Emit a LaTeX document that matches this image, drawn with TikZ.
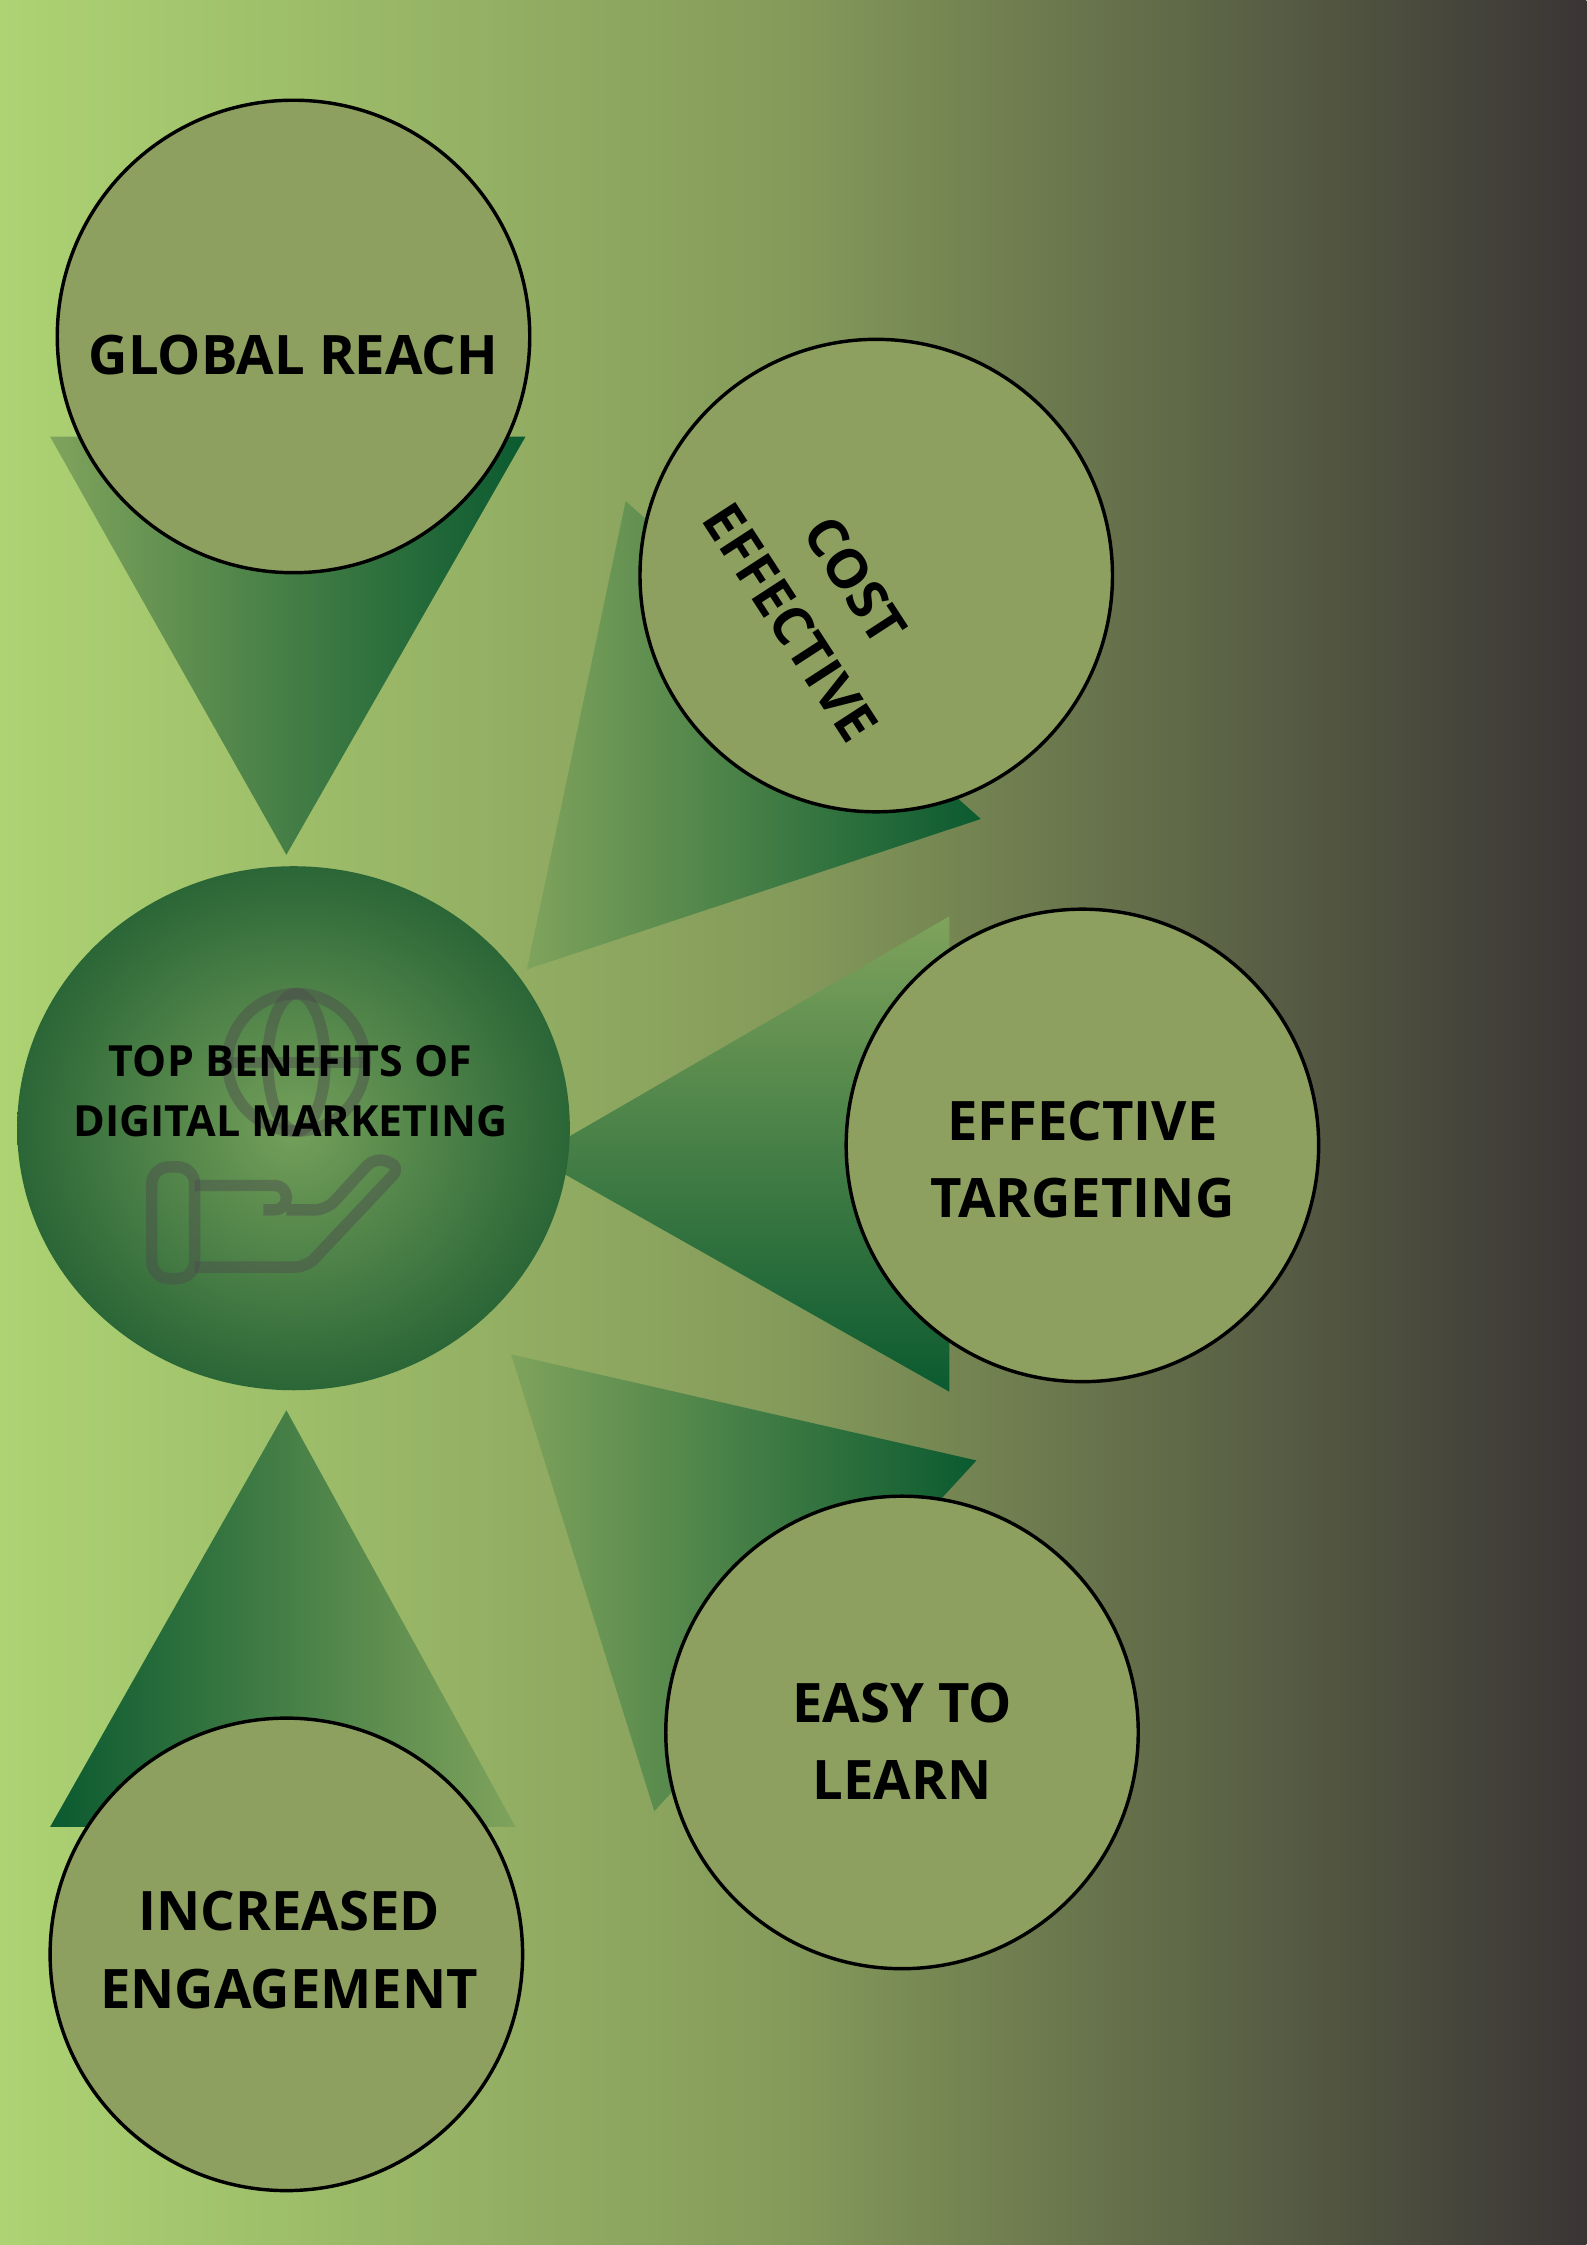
\documentclass[tikz,border=0pt]{standalone}
\usepackage{fontspec}
\setmainfont{Open Sans}
\usetikzlibrary{shapes.geometric}
\definecolor{bgl}{HTML}{ADD373}
\definecolor{bgm}{HTML}{849A5A}
\definecolor{bgr}{HTML}{3A3535}
\definecolor{circ}{HTML}{8DA060}
\definecolor{tdark}{HTML}{0B5A30}
\definecolor{tlight}{HTML}{7FA35C}
\definecolor{cedge}{HTML}{2B6637}
\definecolor{ccent}{HTML}{74A05A}
\pgfdeclarehorizontalshading{bgshade}{100bp}{color(0bp)=(bgl); color(25bp)=(bgl); color(50bp)=(bgm); color(75bp)=(bgr); color(100bp)=(bgr)}
\begin{document}
\begin{tikzpicture}[x=0.5pt,y=-0.5pt,
  bub/.style={circle,draw=black,line width=1.2pt,fill=circ,minimum size=330*0.5pt,inner sep=0pt},
  lbl/.style={align=center,font=\bfseries\fontsize{19}{27}\selectfont}]
\useasboundingbox (0,0) rectangle (1108,1568);
\shade[shading=bgshade] (0,0) rectangle (1108,1568);
% triangles
\shade[left color=tlight,right color=tdark] (35,305) -- (367,305) -- (200,597) -- cycle;
\shade[shading angle=-60,left color=tlight,right color=tdark] (437,350) -- (685,572) -- (368,677) -- cycle;
\shade[top color=tlight,bottom color=tdark] (663,640) -- (663,972) -- (373,808) -- cycle;
\shade[shading angle=110,left color=tlight,right color=tdark] (357,946) -- (682,1020) -- (457,1265) -- cycle;
\shade[left color=tdark,right color=tlight] (200,985) -- (35,1276) -- (360,1276) -- cycle;
% center
\shade[inner color=ccent,outer color=cedge] (205,788) ellipse [x radius=193,y radius=183];
\begin{scope}[draw=black!70,opacity=0.45,line width=4pt,line join=round]
\draw (207,742) circle (48);
\draw (207,742) ellipse [x radius=20,y radius=48];
\draw (159,742) -- (255,742);
\draw[rounded corners=6] (106,815) rectangle (136,893);
\draw[rounded corners=4] (136,828) -- (200,828) -- (200,845) -- (184,845) (200,845) -- (228,845) -- (262,808) -- (280,815) -- (214,885) -- (136,885);
\end{scope}
\node[font=\bfseries\fontsize{15}{21}\selectfont,align=center] (c) at (203,762) {TOP BENEFITS OF\\DIGITAL MARKETING};
% bubbles
\node[bub] (g) at (205,235) {};
\node[bub] (ce) at (612,402) {};
\node[bub] (et) at (756,800) {};
\node[bub] (el) at (630,1210) {};
\node[bub] (ie) at (200,1365) {};
\node[lbl] (gt) at (205,248) {GLOBAL REACH};
\node[lbl,rotate=-57] (cet) at (575,420) {COST\\EFFECTIVE};
\node[lbl] (ett) at (756,810) {EFFECTIVE\\TARGETING};
\node[lbl] (elt) at (630,1216) {EASY TO\\LEARN};
\node[lbl] (iet) at (202,1362) {INCREASED\\ENGAGEMENT};
\end{tikzpicture}
\end{document}
